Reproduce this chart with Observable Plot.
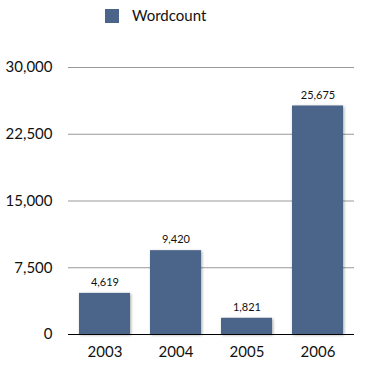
<!DOCTYPE html>
<html><head><meta charset="utf-8">
<script src="https://cdn.jsdelivr.net/npm/d3@7"></script>
<script src="https://cdn.jsdelivr.net/npm/@observablehq/plot@0.6"></script>
<style>
body{margin:0;background:#fff;font-family:Lato,"Open Sans",sans-serif;}
#legend{height:40px;position:relative;}
#legend .sw{position:absolute;left:105px;top:9px;width:14px;height:14px;background:#4b6489;}
#legend .lb{position:absolute;left:132px;top:6px;font-size:15px;color:#111;}
</style></head><body>
<div id="legend"><div class="sw"></div><div class="lb">Wordcount</div></div>
<div id="chart"></div>
<script>
const years = ["2003","2004","2005","2006"];
const wordcount = [4619, 9420, 1821, 25675];
const yTicks = [0, 7500, 15000, 22500, 30000];
const seriesName = "Wordcount";

const data = years.map((y, i) => ({year: y, value: wordcount[i]}));
const fmt = d3.format(",");

const plot = Plot.plot({
  width: 367,
  height: 331,
  marginTop: 27,
  marginBottom: 37,
  marginLeft: 68,
  marginRight: 13,
  style: {fontFamily: "Lato, 'Open Sans', sans-serif", fontSize: "15px", color: "#111", background: "#fff"},
  x: {domain: years, paddingInner: 0.28, paddingOuter: 0.14, label: null, tickSize: 0, tickPadding: 12},
  y: {domain: [0, 30000], ticks: yTicks, label: null, tickSize: 0, tickPadding: 16, tickFormat: fmt},
  marks: [
    Plot.ruleY(yTicks.filter(t => t > 0), {stroke: "#999", strokeWidth: 1}),
    Plot.barY(data, {x: "year", y: "value", fill: "#4b6489"}),
    Plot.ruleY([0], {stroke: "#000", strokeWidth: 1.2}),
    Plot.text(data, {x: "year", y: "value", text: d => fmt(d.value), dy: -11, fontSize: 11, fill: "#111", stroke: "#fff", strokeWidth: 3})
  ]
});
document.getElementById("chart").appendChild(plot);
d3.select(plot).selectAll("rect").style("filter", "drop-shadow(1px 1px 1.5px rgba(0,0,0,0.35))");
</script>
</body></html>
